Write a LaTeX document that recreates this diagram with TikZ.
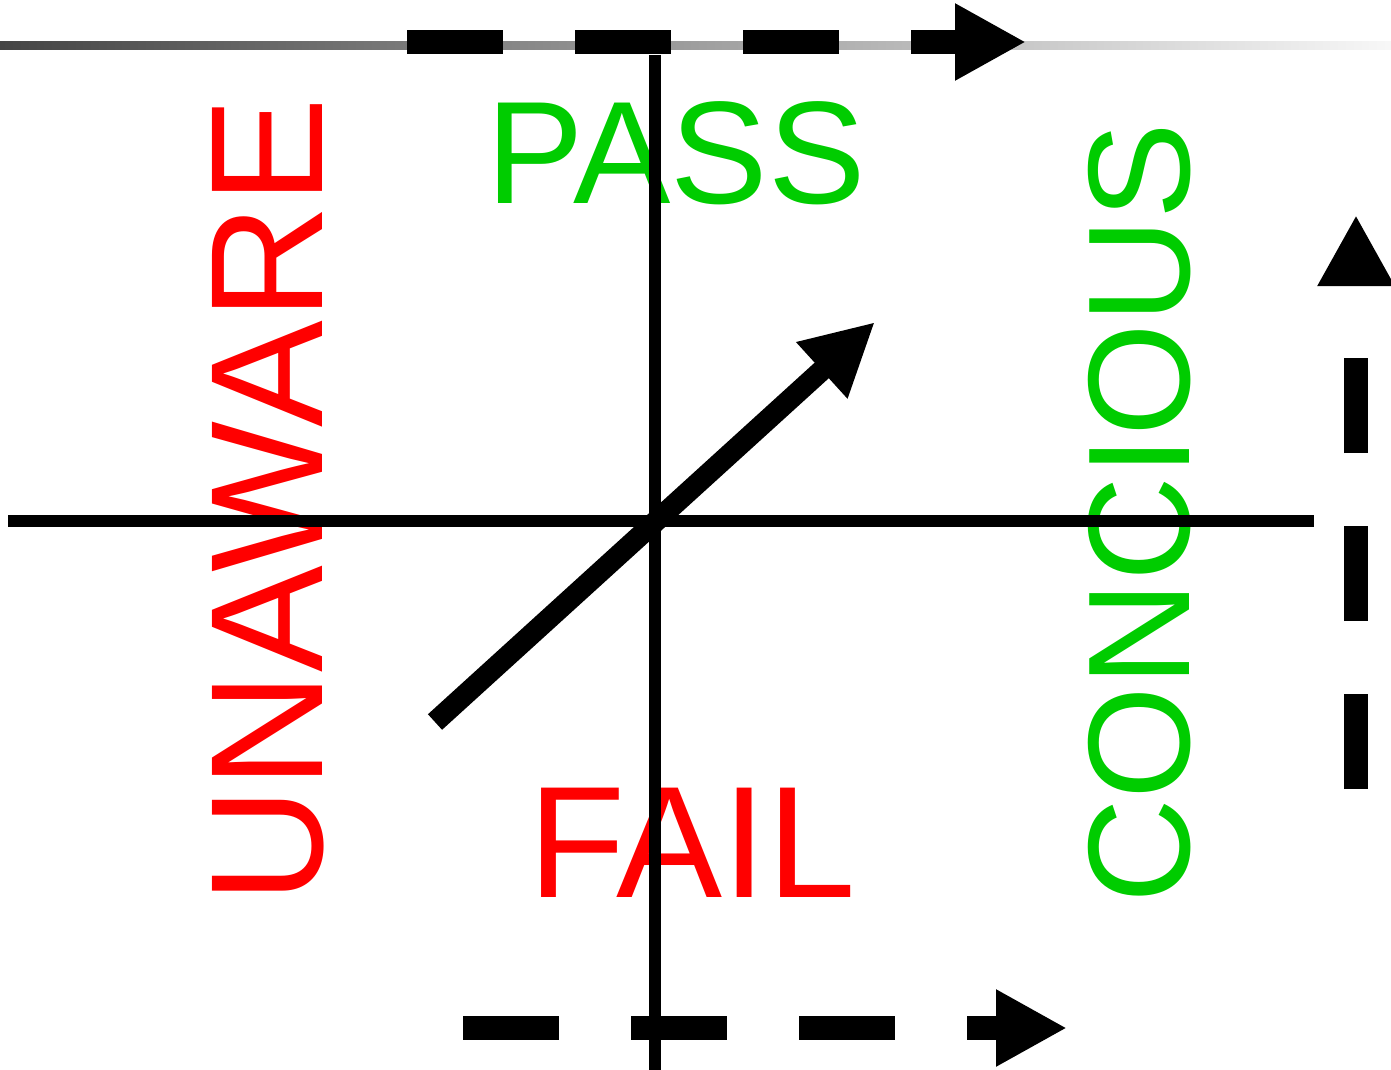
\documentclass[tikz,border=0pt]{standalone}
\usepackage{fontspec}
\setmainfont{Liberation Sans}
\usetikzlibrary{arrows.meta,calc}
\definecolor{passgreen}{RGB}{0,204,0}
\definecolor{failred}{RGB}{255,0,0}
\tikzset{
  axisline/.style={black, line width=5.75pt},
  dashflow/.style={black, line width=12pt, dash pattern=on 47.75pt off 36.25pt,
                   -{Triangle[length=35.5pt,width=36pt]}},
  mainflow/.style={black, line width=10.5pt, -{Triangle[length=36pt,width=35.5pt]}},
  word/.style={inner sep=0pt, anchor=base},
}

\begin{document}
\begin{tikzpicture}[x=0.5pt,y=-0.5pt]
  \path[use as bounding box] (0,0) rectangle (1391,1070);

  % end points
  \coordinate (gradW) at (0,46);
  \coordinate (gradE) at (1391,46);
  \coordinate (topS) at (407,42);
  \coordinate (topE) at (1026,42);
  \coordinate (axisN) at (655,55);
  \coordinate (axisS) at (655,1070);
  \coordinate (axisW) at (8,521);
  \coordinate (axisE) at (1314,521);
  \coordinate (diagS) at (435,722);
  \coordinate (diagN) at (875,322);
  \coordinate (botS) at (463,1028);
  \coordinate (botE) at (1067,1028);
  \coordinate (sideS) at (1356,789);
  \coordinate (sideE) at (1356,215);

  % labels
  \node[word, text=passgreen, font=\fontsize{73pt}{80pt}\selectfont] (pass) at (676,203) {PASS};
  \node[word, text=failred, font=\fontsize{79.5pt}{86pt}\selectfont] (fail) at (692,897) {FAIL};
  \node[word, text=failred, rotate=90, font=\fontsize{80pt}{86pt}\selectfont] (unaware) at (322,501) {UNAWARE};
  \node[word, text=passgreen, rotate=90, font=\fontsize{72.5pt}{80pt}\selectfont] (concious) at (1189,513) {CONCIOUS};

  % top fading rule
  \shade[left color=black!73, middle color=black!29, right color=black!3]
    ($(gradW)+(0,-4)$) rectangle ($(gradE)+(0,4)$);
  \draw[dashflow] (topS) -- (topE);

  % axes
  \draw[axisline] (axisN) -- (axisS);
  \draw[axisline] (axisW) -- (axisE);
  \draw[mainflow] (diagS) -- (diagN);

  \draw[dashflow] (botS) -- (botE);
  \draw[dashflow] (sideS) -- (sideE);
\end{tikzpicture}
\end{document}
